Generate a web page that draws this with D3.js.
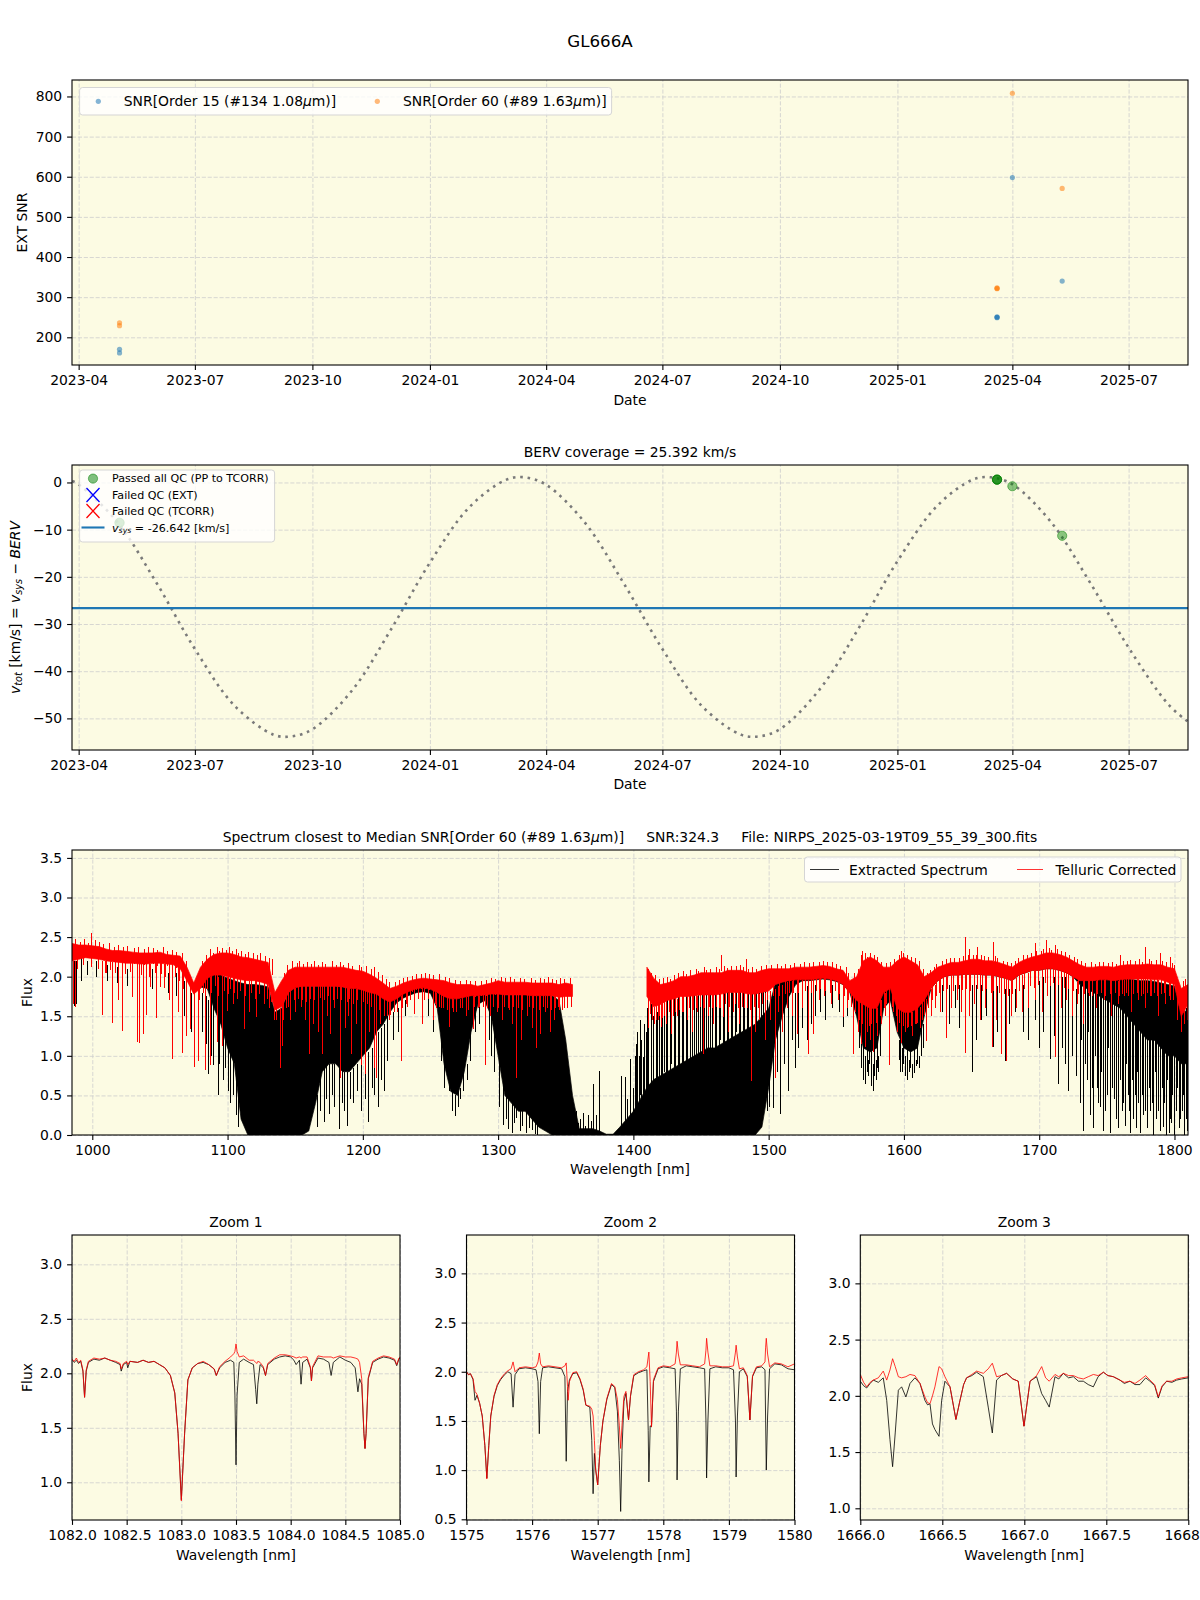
<!DOCTYPE html>
<html><head><meta charset="utf-8">
<script src="https://cdn.jsdelivr.net/npm/d3@7/dist/d3.min.js"></script>
<style>
html,body{margin:0;padding:0;background:#fff;}
text{font-family:"DejaVu Sans",sans-serif;fill:#000;}
</style></head><body>
<svg id="fig" width="1200" height="1600" xmlns="http://www.w3.org/2000/svg"></svg>
<script>
// ================= DATA =================
const obsDates = ["2023-05-03","2023-05-03","2025-03-20","2025-03-20","2025-03-20","2025-04-01","2025-05-10"];
const snrOrder15 = [170,161,250,249,251,598,340];
const snrOrder60 = [236,229,322,323,321,808,571];
const vtotPassed = [-8.5,-8.6,0.6,0.6,0.6,-0.8,-11.3];
const vsys = -26.642;
const dateTicks = ["2023-04","2023-07","2023-10","2024-01","2024-04","2024-07","2024-10","2025-01","2025-04","2025-07"];
const snrTicks = [200,300,400,500,600,700,800];
const vtotTicks = [0,-10,-20,-30,-40,-50];
const bervDates = ["2023-03-27","2023-04-01","2023-05-01","2023-06-01","2023-07-01","2023-08-01","2023-09-01","2023-09-15","2023-10-01","2023-11-01","2023-12-01","2024-01-01","2024-02-01","2024-03-01","2024-03-15","2024-04-01","2024-05-01","2024-06-01","2024-07-01","2024-08-01","2024-09-01","2024-09-15","2024-10-01","2024-11-01","2024-12-01","2025-01-01","2025-02-01","2025-03-01","2025-03-15","2025-04-01","2025-05-01","2025-06-01","2025-07-01","2025-08-01","2025-08-16"];
const bervValues = [0.3,-0.4,-8.3,-21.3,-35.3,-47.3,-53.5,-53.8,-52.3,-44.1,-31.4,-17.0,-5.2,0.6,1.1,-0.5,-8.4,-21.5,-35.3,-47.4,-53.5,-53.8,-52.3,-43.9,-31.2,-16.7,-5.0,0.6,1.1,-0.4,-8.3,-21.3,-35.0,-47.0,-50.6];

// Panel 3: 5 nm grid envelopes
const specWave = [985,990,995,1000,1005,1010,1015,1020,1025,1030,
1035,1040,1045,1050,1055,1060,1065,1070,1075,1080,
1085,1090,1095,1100,1105,1110,1115,1120,1125,1130,
1135,1140,1145,1150,1155,1160,1165,1170,1175,1180,
1185,1190,1195,1200,1205,1210,1215,1220,1225,1230,
1235,1240,1245,1250,1255,1260,1265,1270,1275,1280,
1285,1290,1295,1300,1305,1310,1315,1320,1325,1330,
1335,1340,1345,1350,1355,1360,1365,1370,1375,1380,
1385,1390,1395,1400,1405,1410,1415,1420,1425,1430,
1435,1440,1445,1450,1455,1460,1465,1470,1475,1480,
1485,1490,1495,1500,1505,1510,1515,1520,1525,1530,
1535,1540,1545,1550,1555,1560,1565,1570,1575,1580,
1585,1590,1595,1600,1605,1610,1615,1620,1625,1630,
1635,1640,1645,1650,1655,1660,1665,1670,1675,1680,
1685,1690,1695,1700,1705,1710,1715,1720,1725,1730,
1735,1740,1745,1750,1755,1760,1765,1770,1775,1780,
1785,1790,1795,1800,1805,1810];
const telHi = [2.42,2.40,2.40,2.39,2.38,2.35,2.33,2.33,2.32,2.31,
2.30,2.30,2.30,2.31,2.28,2.27,2.26,2.12,1.92,2.12,
2.22,2.28,2.30,2.30,2.28,2.25,2.24,2.22,2.20,2.18,
1.80,1.95,2.08,2.12,2.12,2.12,2.12,2.12,2.12,2.12,
2.12,2.10,2.08,2.07,2.03,1.98,1.92,1.85,1.88,1.92,
1.95,1.97,1.98,1.97,1.96,1.95,1.92,1.90,1.90,1.90,
1.88,1.90,1.92,1.95,1.93,1.93,1.93,1.93,1.92,1.92,
1.92,1.92,1.90,1.92,1.90,null,null,null,null,null,
null,null,null,null,null,2.12,1.98,1.90,1.92,1.95,
2.00,2.00,2.02,2.05,2.05,2.05,2.05,2.08,2.08,2.08,
2.05,2.05,2.08,2.10,2.10,2.10,2.10,2.12,2.12,2.12,
2.13,2.14,2.13,2.10,2.08,1.95,2.00,2.20,2.25,2.20,
2.12,2.12,2.20,2.25,2.20,2.15,2.00,2.05,2.12,2.15,
2.18,2.18,2.20,2.22,2.22,2.20,2.20,2.18,2.15,2.12,
2.18,2.22,2.25,2.27,2.30,2.30,2.28,2.25,2.20,2.15,
2.12,2.12,2.13,2.13,2.12,2.14,2.15,2.15,2.15,2.16,
2.15,2.15,2.12,2.10,1.85,1.90];
const telLo = [2.20,2.22,2.24,2.23,2.22,2.20,2.19,2.18,2.17,2.17,
2.16,2.16,2.17,2.17,2.16,2.15,2.10,1.95,1.78,1.85,
1.98,2.02,2.02,2.00,1.98,1.96,1.95,1.95,1.93,1.90,
1.58,1.62,1.80,1.86,1.88,1.88,1.88,1.88,1.88,1.88,
1.87,1.85,1.85,1.83,1.80,1.78,1.72,1.68,1.72,1.78,
1.82,1.85,1.86,1.84,1.80,1.75,1.72,1.72,1.74,1.76,
1.76,1.77,1.78,1.78,1.77,1.77,1.77,1.77,1.76,1.76,
1.76,1.76,1.74,1.75,1.75,null,null,null,null,null,
null,null,null,null,null,1.75,1.62,1.65,1.70,1.72,
1.75,1.75,1.76,1.77,1.77,1.77,1.78,1.80,1.80,1.80,
1.78,1.78,1.80,1.82,1.90,1.93,1.95,1.96,1.96,1.96,
1.97,1.98,1.97,1.95,1.90,1.80,1.70,1.65,1.60,1.60,
1.80,1.85,1.60,1.55,1.55,1.60,1.70,1.85,1.95,2.00,
2.02,2.02,2.03,2.03,2.03,2.02,2.02,2.00,1.98,1.95,
2.02,2.05,2.08,2.08,2.10,2.10,2.08,2.05,2.00,1.95,
1.95,1.95,1.96,1.96,1.95,1.96,1.97,1.97,1.97,1.97,
1.96,1.96,1.93,1.90,1.50,1.65];
const extHi = [2.36,2.35,2.35,2.34,2.33,2.30,2.28,2.28,2.27,2.26,
2.25,2.25,2.25,2.26,2.23,2.22,2.20,2.05,1.86,1.98,
2.05,2.05,2.02,1.98,1.95,1.92,1.90,1.90,1.89,1.87,
1.55,1.60,1.80,1.87,1.88,1.88,1.88,1.88,1.88,1.88,
1.87,1.86,1.86,1.85,1.82,1.80,1.74,1.70,1.75,1.80,
1.84,1.86,1.87,1.86,1.80,1.76,1.73,1.73,1.75,1.77,
1.78,1.79,1.80,1.80,1.79,1.79,1.79,1.79,1.78,1.78,
1.78,1.76,1.70,1.20,0.50,0.08,0.08,0.08,0.05,0.01,
0.01,0.10,0.20,0.30,0.45,0.60,0.70,0.75,0.80,0.85,
0.90,0.95,1.00,1.05,1.10,1.10,1.15,1.20,1.25,1.30,
1.35,1.40,1.50,1.60,1.92,1.95,1.96,1.97,1.97,1.97,
1.98,1.99,1.98,1.96,1.92,1.85,1.78,1.75,1.72,1.72,
1.85,1.88,1.72,1.68,1.68,1.72,1.78,1.88,1.98,2.03,
2.05,2.05,2.06,2.06,2.06,2.05,2.05,2.03,2.01,1.98,
2.05,2.08,2.11,2.11,2.13,2.13,2.11,2.08,2.03,1.98,
1.98,1.98,1.98,1.98,1.97,1.97,1.97,1.96,1.95,1.95,
1.94,1.92,1.90,1.88,1.50,1.60];
const extLo = [2.22,2.24,2.26,2.25,2.24,2.22,2.21,2.20,2.19,2.19,
2.18,2.18,2.19,2.19,2.18,2.17,2.12,1.97,1.80,1.87,
1.85,1.60,1.40,1.10,0.90,0.20,0.00,0.00,0.00,0.00,
0.00,0.00,0.00,0.00,0.00,0.05,0.40,0.80,0.90,0.90,
0.80,0.80,0.90,1.00,1.10,1.30,1.40,1.55,1.67,1.73,
1.77,1.80,1.81,1.79,1.60,0.90,0.55,0.50,0.80,1.30,
1.65,1.70,1.50,1.00,0.50,0.40,0.30,0.30,0.20,0.10,
0.05,0.00,0.00,0.00,0.00,0.00,0.00,0.00,0.00,0.00,
0.00,0.00,0.00,0.00,0.00,0.00,0.00,0.00,0.00,0.00,
0.00,0.00,0.00,0.00,0.00,0.00,0.00,0.00,0.00,0.00,
0.00,0.00,0.10,0.60,1.20,1.50,1.75,1.90,1.95,1.95,
1.96,1.97,1.96,1.94,1.90,1.80,1.50,1.10,1.05,1.10,
1.60,1.70,1.30,1.10,1.05,1.10,1.50,1.85,1.95,2.00,
2.02,2.02,2.03,2.03,2.03,2.02,2.02,2.00,1.98,1.95,
2.02,2.05,2.08,2.08,2.10,2.10,2.08,2.05,2.00,1.90,
1.85,1.80,1.75,1.70,1.65,1.60,1.50,1.40,1.30,1.20,
1.20,1.10,1.00,1.00,0.90,0.90];
const extLines = [
[986.5,2.2,1.63],[988,2.2,1.66],[991.5,2.25,1.95],[996,2.2,2.02],[1003,2.2,2.0],[1011,2.15,1.95],[1018,2.12,1.92],[1026,2.1,1.88],[1044,2.1,1.85],[1056,2.05,1.8],[1062,2.05,1.75],[1068,1.95,1.5],[1073,1.8,1.3],
[1081,1.8,1.3],[1084,1.75,1.15],[1085.9,1.7,0.77],[1088,1.7,1.0],[1089.5,1.65,0.89],[1092.6,1.5,0.51],[1094,1.5,0.9],[1096.5,1.4,0.7],[1098,1.3,0.85],[1100,1.2,0.55],[1102,1.1,0.4],[1104,1.0,0.5],[1106.5,0.9,0.25],[1108,0.8,0.1],
[1166,0.5,0.1],[1168,0.8,0.3],[1171,0.85,0.17],[1173,0.9,0.45],[1174.8,0.9,0.26],[1177,0.9,0.5],[1179,0.9,0.35],[1182.2,0.9,0.07],[1184.5,0.85,0.4],[1186,0.8,0.3],[1188.4,0.8,0.11],[1190.5,0.8,0.45],[1193,0.85,0.4],[1195.5,0.9,0.55],[1199,0.95,0.3],[1201.5,1.0,0.45],[1204,1.05,0.17],[1206.5,1.1,0.6],[1208.5,1.2,0.5],[1211,1.3,0.36],[1213.5,1.35,0.7],[1215.6,1.4,0.55],[1218,1.5,0.93],[1222,1.55,1.2],[1226,1.6,1.3],[1231,1.7,1.5],[1238,1.75,1.55],[1248,1.75,1.5],[1252,1.7,1.3],
[1257.5,1.5,0.93],[1260,1.0,0.6],[1263.7,0.8,0.55],[1266,0.6,0.3],[1268.5,0.5,0.24],[1270.5,0.55,0.35],[1272,0.6,0.45],[1274,0.8,0.55],[1277,0.9,0.7],[1279,1.3,0.94],[1283,1.7,1.3],[1286,1.7,1.4],[1290.1,1.7,0.89],[1293,1.6,1.2],[1295,1.5,1.0],[1297,1.4,0.8],
[1301,1.0,0.35],[1303.7,0.7,0.13],[1305.5,0.5,0.2],[1307.5,0.5,0.08],[1309.9,0.4,0.03],[1312,0.4,0.15],[1313.5,0.35,0.22],[1316,0.3,0.05],[1318,0.3,0.12],[1320.5,0.3,0.02],[1323,0.3,0.09],[1325,0.2,0.06],[1327.4,0.2,0.01],[1329,0.15,0.0],
[1355.4,0,0.22],[1357.5,0,0.3],[1359,0,0.15],[1360.5,0,0.2],[1362.8,0,0.28],[1364.5,0,0.12],[1366.5,0,0.25],[1368.5,0,0.18],[1370.2,0,0.64],[1372,0,0.25],[1374.6,0,0.81],[1391.1,0,0.75],[1393.6,0,0.73],[1395.5,0,0.45],[1397.8,0,0.96],[1399.5,0,0.6],[1402.2,0,1.15],[1404.5,0.2,0.9],[1407.1,0.3,0.98],[1409.5,0.4,1.3],
[1401,1.0,0.2],[1403,1.3,0.3],[1404,1.0,0.1],[1405,1.45,0.5],[1406,1.2,0.2],[1408,1.4,0.3],[1409,1.1,0.0],[1410,1.6,0.6],[1411,1.4,0.2],[1413,1.65,0.4],[1414.5,1.5,0.0],[1416.5,1.7,0.7],[1417.5,1.55,0.1],[1419,1.7,0.3],[1420.5,1.6,0.5],[1421.5,1.75,0.0],[1422.5,1.65,0.8],[1424,1.75,0.2],[1425,1.7,0.5],[1427,1.78,0.1],[1428,1.7,0.9],[1430,1.8,0.3],[1431,1.72,0.0],[1433,1.8,0.6],[1434,1.75,0.2],[1436,1.82,0.9],[1437,1.78,0.1],[1439,1.83,0.5],[1440,1.8,0.0],[1442,1.85,0.7],[1443,1.8,0.3],[1445,1.85,1.0],[1446,1.82,0.1],[1448,1.86,0.6],[1449,1.8,0.2],[1451,1.87,0.8],[1452,1.82,0.0],[1454,1.88,0.4],[1455,1.84,1.1],[1457,1.88,0.2],[1458,1.85,0.7],[1460,1.88,0.0],[1461,1.85,0.9],[1463,1.9,0.3],[1464,1.86,1.2],[1466,1.9,0.5],[1467,1.87,0.1],[1469,1.9,0.8],[1470,1.87,0.3],[1472,1.9,1.1],[1473,1.88,0.0],[1475,1.9,0.6],[1476,1.88,1.3],[1478,1.9,0.2],[1479,1.88,0.9],[1481,1.9,0.4],[1482,1.88,1.2],[1484,1.9,0.1],[1485,1.88,0.8],[1487,1.9,0.3],[1488,1.88,1.0],[1490,1.9,0.0],[1491,1.88,0.6],[1492.5,1.9,0.2],[1494,1.9,0.9],[1496,1.9,0.4],[1497.5,1.9,1.1],[1499,1.92,0.3],
[1500.5,1.6,0.35],[1503.5,1.5,0.34],[1506,1.6,0.8],[1508.4,1.6,0.26],[1511,1.7,0.9],[1514.5,1.75,0.55],[1517,1.8,1.2],[1519.4,1.8,0.85],[1522,1.85,1.1],[1525,1.85,1.35],[1528,1.88,1.2],[1531,1.9,1.4],[1534,1.9,1.5],[1538,1.9,1.55],[1542,1.9,1.45],[1547,1.9,1.6],[1552,1.9,1.55],[1554.8,1.85,1.36],[1558,1.8,1.5],
[1567,1.5,1.1],[1568,1.6,0.85],[1569.5,1.2,0.8],[1570,1.5,0.7],[1571.5,1.0,0.65],[1572.5,1.4,0.8],[1573.5,0.95,0.75],[1574.5,1.3,0.9],[1575.3,0.9,0.63],[1576,1.3,0.62],[1577,0.9,0.55],[1578,1.3,0.75],[1579,0.95,0.7],[1580,1.4,0.85],[1581,1.0,0.8],[1582,1.5,1.0],[1596,1.2,0.95],[1597,1.5,0.8],[1598.5,1.1,0.8],[1599.5,1.4,0.9],[1601,1.0,0.75],[1602,1.3,0.7],[1603.5,0.95,0.8],[1604.5,1.3,0.85],[1606,0.9,0.72],[1607.5,1.3,0.78],[1609,0.95,0.87],[1610,1.3,0.9],[1611.5,1.0,0.85],[1612.5,1.4,1.0],[1614,1.4,1.1],
[1628,1.9,1.55],[1633,1.9,1.4],[1638,1.9,1.6],[1641,1.9,1.35],[1645,1.9,1.04],[1650.4,1.9,0.79],[1653.5,1.9,1.2],[1657,1.9,1.45],[1661,1.9,1.5],[1665.9,1.9,1.11],[1669,1.88,1.3],[1674.6,1.85,0.94],[1678,1.85,1.4],[1682,1.85,1.55],[1688,1.9,1.3],[1692,1.95,1.2],[1697,1.95,1.45],[1700,1.95,1.1],[1703,2.0,1.3],[1707.9,2.0,0.96],[1711,2.0,1.25],[1714.1,2.0,0.64],[1717,2.0,1.1],[1719,2.0,0.9],[1721.5,1.95,0.55],[1724,1.9,1.0],[1727,1.85,0.75],
[1730,1.9,0.4],[1731,1.9,1.2],[1732.6,1.9,0.05],[1733.8,1.9,0.9],[1735,1.9,0.7],[1736,1.9,1.3],[1737.5,1.88,0.25],[1738.8,1.88,0.6],[1740,1.88,0.09],[1741,1.88,1.0],[1742.5,1.85,0.6],[1743.8,1.85,0.4],[1745,1.85,0.35],[1746,1.85,0.8],[1747.4,1.85,0.05],[1748.8,1.85,0.3],[1750,1.85,0.5],[1751,1.85,1.1],[1752.3,1.85,0.03],[1753.5,1.85,0.6],[1755,1.85,0.45],[1756.5,1.85,0.2],[1758.5,1.85,0.09],[1760,1.85,0.7],[1761,1.85,0.3],[1762.2,1.85,0.4],[1763.5,1.85,0.12],[1764.5,1.85,0.9],[1765.5,1.85,0.5],[1766.3,1.85,0.3],[1767.2,1.85,0.03],[1768.4,1.85,0.7],[1769.5,1.85,0.2],[1770.5,1.85,0.5],[1771.5,1.85,0.09],[1772.2,1.85,0.8],[1773,1.85,0.4],[1774.6,1.85,0.03],[1776,1.85,0.5],[1777,1.85,0.25],[1778.2,1.85,0.3],[1779.5,1.85,0.09],[1780.8,1.85,0.6],[1782,1.85,0.3],[1783.2,1.85,0.4],[1784.4,1.85,0.0],[1785.5,1.85,0.8],[1786.5,1.85,0.2],[1788,1.85,0.3],[1789.4,1.85,0.05],[1790.5,1.85,0.6],[1791.5,1.85,0.1],[1792.5,1.85,0.4],[1793.5,1.85,0.0],[1794.5,1.85,0.7],[1795.6,1.85,0.03],[1796.5,1.85,0.2],[1797.5,1.85,0.15],[1798.5,1.85,0.5],[1799.5,1.85,0.0],[1801,1.85,0.3],[1802,1.7,0.6],[1803,1.7,0.09],[1804,1.6,0.2],[1805.5,1.6,0.3],[1806.3,1.6,0.5],[1807,1.6,0.0],[1808.3,1.6,0.2],[1809.5,1.6,0.05]
];
const telLines = [
[985.4,2.2,1.66],[986.9,2.2,1.62],[998.8,2.3,2.55],[1006.9,2.2,1.52],[1009.1,2.2,2.05],[1014.8,2.18,1.41],[1019.3,2.18,1.70],[1021.7,2.18,1.32],[1029.1,2.17,1.74],[1032.8,2.17,1.17],[1034.6,2.16,1.16],[1037.3,2.16,1.28],[1039.8,2.16,1.52],[1043,2.16,1.87],[1047.2,2.17,1.48],[1050.1,2.17,1.87],[1053.3,2.16,1.86],[1056.5,2.16,1.70],[1058.8,2.15,0.96],[1063,2.12,1.55],[1066.2,2.10,1.03],[1069.1,2.0,1.25],[1071.9,1.9,1.34],[1075.3,1.8,0.86],[1078.5,1.82,0.94],[1083,2.0,0.82],[1086.7,2.0,0.89],[1092.1,2.02,1.17],[1095.8,2.02,1.13],[1099.5,2.0,1.57],[1104,1.98,1.65],[1111.9,1.96,1.34],[1116,1.95,1.55],[1121.2,1.95,1.49],[1126.6,1.93,1.66],[1131,1.9,1.6],
[1136,1.7,1.45],[1139,1.6,0.85],[1140.5,1.65,1.13],[1146.5,1.82,1.45],[1150,1.86,1.55],[1154,1.88,1.62],[1157,1.88,1.45],[1160,1.88,1.02],[1163,1.88,1.4],[1166.5,1.88,1.3],[1169.9,1.88,1.02],[1173.5,1.88,1.5],[1176,1.88,1.28],[1179,1.88,1.6],[1183,1.87,0.72],[1186.5,1.87,1.35],[1189,1.86,1.5],[1191.6,1.85,1.02],[1195,1.85,1.4],[1198.3,1.84,0.89],[1201.5,1.83,0.77],[1204.5,1.81,1.3],[1208.1,1.79,0.85],[1209.9,1.78,0.72],[1213,1.75,1.4],[1215.5,1.72,1.5],[1219,1.7,1.45],[1223,1.7,1.55],[1227.9,1.75,0.94],[1233,1.8,1.62],[1237.6,1.84,1.53],[1244,1.86,1.40],[1251.5,1.84,1.45],[1254,1.8,1.6],
[1258,1.78,1.6],[1263.8,1.75,1.36],[1267,1.72,1.55],[1272,1.72,1.6],[1276,1.74,1.5],[1281.5,1.76,1.34],[1286,1.76,1.62],[1290.1,1.77,0.89],[1294,1.78,1.5],[1299,1.78,1.55],[1303,1.78,1.45],[1307,1.77,1.6],[1310.5,1.77,1.4],[1313.5,1.77,0.72],[1317,1.77,1.2],[1321,1.77,1.5],[1325,1.76,1.35],[1328.3,1.76,1.1],[1331,1.76,1.28],[1335,1.76,1.55],[1338,1.76,1.3],[1341,1.76,1.45],[1345,1.74,1.58],[1349,1.75,1.6],
[1410.5,1.75,1.35],[1412,1.7,1.53],[1415,1.62,1.4],[1418,1.65,1.45],[1420.7,1.65,1.36],[1424,1.7,1.4],[1428,1.72,1.28],[1432,1.72,1.5],[1436,1.75,1.55],[1440,1.75,1.45],[1443,1.75,1.3],[1447,1.76,1.55],[1451.5,1.77,1.02],[1455,1.77,1.5],[1459,1.77,1.4],[1463,1.77,1.6],[1466,1.78,1.49],[1470,1.8,1.3],[1474,1.8,1.55],[1478,1.8,1.4],[1482,1.8,1.6],[1487.2,1.78,0.68],[1490,1.78,1.3],[1493,1.78,1.45],[1497,1.8,1.2],
[1501,1.82,1.45],[1504.4,1.85,0.72],[1507,1.88,1.55],[1510,1.9,1.3],[1513.5,1.93,1.6],[1517,1.95,1.5],[1521,1.96,1.28],[1524.5,1.96,1.6],[1529,1.96,1.02],[1533.1,1.97,1.28],[1537,1.97,1.7],[1541,1.98,1.75],[1546,1.97,1.65],[1551,1.95,1.7],[1554.8,1.9,1.49],[1558,1.85,1.6],[1562.2,1.8,1.02],
[1566,1.7,1.3],[1568,1.68,1.15],[1570.9,1.65,1.11],[1572.5,1.65,1.3],[1575,1.6,1.2],[1577.5,1.6,1.05],[1580,1.6,1.25],[1583,1.7,1.4],[1586,1.8,1.5],[1588.9,1.85,0.89],[1592,1.85,1.55],[1595,1.65,1.3],[1597.5,1.6,1.16],[1600.5,1.55,1.3],[1603,1.55,1.36],[1606,1.55,1.25],[1609,1.6,1.4],[1612,1.62,1.35],[1616.5,1.72,1.19],[1620,1.85,1.5],[1623,1.9,1.6],
[1627,1.98,1.55],[1631.4,2.0,1.23],[1635,2.02,1.6],[1639,2.02,1.7],[1642,2.02,1.55],[1645,2.03,1.04],[1648,2.03,1.5],[1652,2.03,1.65],[1656,2.03,1.45],[1660,2.02,1.6],[1665.4,2.02,1.11],[1668,2.0,1.45],[1672.1,2.0,1.02],[1675.3,1.98,0.94],[1679,1.96,1.5],[1683,1.98,1.6],[1687,2.02,1.55],[1692,2.05,1.6],[1697,2.08,1.7],[1702,2.08,1.55],[1706,2.1,1.75],[1711.6,2.1,0.98],[1716,2.08,1.6],[1720,2.05,1.7],[1724,2.0,1.5],[1728,1.95,1.65],[1732.6,1.95,1.40],[1737,1.95,1.75],[1742,1.95,1.6],[1748,1.96,1.7],[1753,1.96,1.5],[1758,1.95,1.65],[1763,1.96,1.75],[1768,1.97,1.55],[1773,1.97,1.7],[1778,1.97,1.6],[1783,1.96,1.75],[1788,1.96,1.5],[1793,1.95,1.65],[1797,1.93,1.7],[1801.7,1.9,1.45],[1804.5,1.6,1.3],[1807,1.6,1.4],
[1645.2,2.2,2.5],[1665.6,2.2,2.44],[1705,2.28,2.46],[1778.3,2.15,2.38]
];
const telPeaks = [[987,2.47],[991,2.44],[994,2.48],[997,2.43],[1002,2.46],[1005,2.44],[1008,2.41],[1012,2.42],[1016,2.38],[1019,2.40],[1023,2.37],[1026,2.39],[1031,2.36],[1034,2.38],[1038,2.35],[1041,2.37],[1045,2.36],[1048,2.34],[1052,2.37],[1055,2.33],[1059,2.34],[1062,2.31],[1066,2.30],[1069,2.2],
[1078,2.0],[1081,2.2],[1084,2.28],[1087,2.35],[1089,2.3],[1092,2.38],[1094,2.33],[1096,2.36],[1099,2.34],[1101,2.38],[1103,2.32],[1106,2.35],[1108,2.3],[1110,2.33],[1113,2.29],[1115,2.31],[1119,2.3],[1122,2.27],[1124,2.3],[1128,2.26],[1131,2.24],[1133,2.22],
[1142,2.05],[1144,2.15],[1148,2.2],[1151,2.17],[1153,2.2],[1156,2.16],[1159,2.19],[1162,2.16],[1164,2.2],[1167,2.15],[1170,2.18],[1172,2.16],[1177,2.2],[1180,2.15],[1183,2.18],[1185,2.15],[1189,2.17],[1192,2.13],[1197,2.15],[1199,2.12],[1202,2.14],[1206,2.1],[1208,2.12],[1211,2.06],[1214,2.02],[1217,1.97],[1219,1.93],
[1224,1.93],[1227,1.96],[1230,1.98],[1233,2.0],[1236,2.01],[1239,2.03],[1243,2.04],[1246,2.05],[1249,2.03],[1252,2.02],[1256,2.03],[1261,2.0],[1264,1.98],[1268,1.96],[1272,1.95],[1276,1.96],[1279,1.95],[1283,1.94],[1287,1.95],[1291,1.96],[1295,1.98],[1298,1.97],[1302,2.0],[1305,1.98],[1309,1.99],[1312,1.97],[1316,1.98],[1319,1.97],[1324,1.98],[1327,1.96],[1331,1.98],[1334,1.97],[1337,1.99],[1340,1.97],[1343,1.96],[1346,1.98],[1349,1.97],[1353,1.98],
[1411,2.1],[1413,2.05],[1416,2.02],[1419,1.97],[1422,1.98],[1425,2.0],[1427,1.97],[1430,2.02],[1433,2.05],[1437,2.07],[1439,2.04],[1442,2.08],[1446,2.1],[1448,2.07],[1452,2.12],[1454,2.09],[1457,2.1],[1461,2.12],[1463,2.1],[1465,2.27],[1467,2.13],[1469,2.11],[1472,2.14],[1476,2.13],[1479,2.15],[1481,2.12],[1483,2.22],[1485,2.1],[1488,2.12],[1491,2.1],[1494,2.13],[1498,2.15],
[1502,2.15],[1506,2.16],[1509,2.14],[1512,2.16],[1516,2.15],[1519,2.17],[1523,2.16],[1526,2.18],[1530,2.17],[1533,2.18],[1537,2.19],[1540,2.2],[1543,2.19],[1547,2.18],[1550,2.16],[1553,2.14],[1557,2.12],[1559,2.05],
[1563,2.05],[1566,2.1],[1568,2.27],[1569,2.33],[1571,2.3],[1573,2.25],[1575,2.3],[1578,2.27],[1580,2.25],[1583,2.18],[1587,2.17],[1590,2.18],[1593,2.22],[1596,2.28],[1598,2.33],[1599,2.3],[1602,2.28],[1605,2.25],[1608,2.24],[1611,2.2],[1614,2.1],[1617,2.05],[1619,2.08],[1622,2.12],[1624,2.16],
[1628,2.2],[1631,2.22],[1634,2.24],[1637,2.23],[1641,2.24],[1644,2.26],[1647,2.27],[1648,2.35],[1651,2.28],[1653,2.27],[1654,2.38],[1657,2.27],[1659,2.26],[1662,2.25],[1667,2.26],[1669,2.23],[1673,2.2],[1676,2.19],[1679,2.17],[1682,2.2],[1684,2.23],[1688,2.27],[1691,2.28],[1694,2.3],[1697,2.42],[1698,2.32],[1701,2.33],[1703,2.35],[1707,2.36],[1709,2.34],[1712,2.4],[1713,2.35],[1716,2.33],[1719,2.31],[1722,2.28],[1726,2.25],[1728,2.22],
[1731,2.2],[1734,2.17],[1738,2.18],[1741,2.16],[1744,2.19],[1747,2.18],[1751,2.17],[1754,2.18],[1757,2.16],[1760,2.28],[1762,2.2],[1765,2.2],[1767,2.21],[1771,2.2],[1774,2.22],[1776,2.19],[1781,2.22],[1783,2.2],[1786,2.21],[1789,2.3],[1791,2.2],[1794,2.18],[1797,2.25],[1798,2.17],[1800,2.15],[1803,1.9],[1806,1.95],[1808,1.97]];
const telDips = [[989,2.1],[993,2.15],[999,2.12],[1004,2.1],[1010,2.05],[1013,2.08],[1017,2.05],[1024,2.03],[1028,2.06],[1036,2.02],[1042,2.0],[1046,2.05],[1051,2.03],[1054,2.0],[1057,1.98],[1061,2.0],[1064,1.95],[1067,1.85],
[1079,1.7],[1082,1.8],[1085,1.85],[1088,1.8],[1091,1.88],[1093,1.75],[1097,1.82],[1100,1.78],[1102,1.85],[1105,1.8],[1107,1.72],[1109,1.82],[1113,1.75],[1117,1.8],[1120,1.72],[1123,1.78],[1127,1.75],[1129,1.72],[1132,1.68],[1134,1.45],
[1141,1.45],[1143,1.6],[1145,1.62],[1149,1.7],[1152,1.72],[1155,1.7],[1158,1.68],[1161,1.72],[1164,1.7],[1168,1.73],[1171,1.7],[1174,1.75],[1178,1.7],[1181,1.72],[1184,1.7],[1188,1.68],[1190,1.72],[1193,1.66],[1196,1.7],[1200,1.68],[1203,1.66],[1206,1.62],[1210,1.6],[1212,1.58],[1216,1.55],[1218,1.5],[1220,1.52],
[1225,1.55],[1229,1.6],[1232,1.65],[1235,1.7],[1241,1.72],[1245,1.7],[1248,1.72],[1253,1.65],[1256,1.62],[1259,1.6],[1262,1.58],[1266,1.6],[1269,1.55],[1273,1.6],[1278,1.58],[1282,1.62],[1285,1.6],[1289,1.62],[1292,1.6],[1296,1.62],[1300,1.6],[1304,1.62],[1308,1.58],[1311,1.62],[1315,1.6],[1318,1.58],[1323,1.62],[1326,1.6],[1330,1.58],[1333,1.62],[1336,1.6],[1339,1.58],[1342,1.6],[1344,1.62],[1347,1.58],[1351,1.6],[1354,1.62],
[1412,1.55],[1414,1.45],[1417,1.45],[1419,1.5],[1421,1.48],[1423,1.5],[1426,1.55],[1429,1.5],[1431,1.55],[1434,1.58],[1437,1.55],[1441,1.6],[1444,1.58],[1446,1.6],[1449,1.62],[1452,1.6],[1456,1.62],[1458,1.6],[1461,1.62],[1464,1.6],[1468,1.65],[1471,1.62],[1475,1.65],[1477,1.6],[1480,1.62],[1484,1.6],[1486,1.58],[1489,1.62],[1492,1.6],[1495,1.65],[1499,1.7],
[1503,1.75],[1508,1.75],[1512,1.78],[1515,1.8],[1518,1.8],[1522,1.8],[1527,1.82],[1531,1.8],[1535,1.82],[1538,1.85],[1542,1.82],[1545,1.8],[1549,1.82],[1552,1.78],[1556,1.75],[1559,1.7],
[1561,1.62],[1564,1.55],[1567,1.45],[1569,1.4],[1574,1.38],[1576,1.4],[1579,1.42],[1582,1.5],[1585,1.6],[1587,1.65],[1591,1.62],[1594,1.5],[1596,1.42],[1599,1.38],[1602,1.35],[1605,1.38],[1608,1.4],[1610,1.42],[1613,1.45],[1615,1.52],[1618,1.6],[1621,1.7],[1624,1.75],
[1626,1.8],[1629,1.82],[1632,1.85],[1636,1.82],[1640,1.85],[1643,1.83],[1646,1.85],[1649,1.82],[1654,1.85],[1658,1.82],[1661,1.84],[1664,1.8],[1666,1.82],[1670,1.8],[1674,1.78],[1677,1.75],[1680,1.78],[1685,1.82],[1689,1.85],[1693,1.88],[1696,1.86],[1699,1.9],[1704,1.92],[1708,1.88],[1710,1.92],[1714,1.9],[1718,1.86],[1721,1.85],[1725,1.82],[1729,1.78],
[1733,1.78],[1736,1.8],[1739,1.75],[1743,1.78],[1746,1.8],[1749,1.76],[1752,1.78],[1756,1.8],[1759,1.76],[1761,1.78],[1764,1.8],[1766,1.75],[1769,1.78],[1772,1.8],[1775,1.76],[1777,1.78],[1780,1.8],[1782,1.76],[1785,1.8],[1787,1.75],[1790,1.78],[1792,1.8],[1796,1.75],[1799,1.7],[1802,1.6],[1805,1.3],[1809,1.45]];
const specXTicks = [1000,1100,1200,1300,1400,1500,1600,1700,1800];
const fluxTicks = [0,0.5,1,1.5,2,2.5,3,3.5];

const zoom1Ext = [[1082.00,2.12],[1082.02,2.10],[1082.04,2.12],[1082.06,2.09],[1082.08,2.11],[1082.10,2.02],[1082.115,1.78],[1082.13,2.02],[1082.15,2.10],[1082.20,2.13],[1082.25,2.12],[1082.30,2.14],[1082.35,2.12],[1082.40,2.10],[1082.44,2.08],[1082.45,2.02],[1082.47,2.08],[1082.50,2.10],[1082.51,2.05],[1082.53,2.11],[1082.60,2.10],[1082.65,2.12],[1082.70,2.10],[1082.75,2.11],[1082.80,2.08],[1082.85,2.05],[1082.90,1.98],[1082.94,1.82],[1082.97,1.45],[1083.00,0.84],[1083.03,1.45],[1083.06,1.94],[1083.10,2.05],[1083.15,2.09],[1083.20,2.10],[1083.25,2.08],[1083.30,2.04],[1083.32,1.98],[1083.35,2.05],[1083.40,2.10],[1083.45,2.12],[1083.48,2.10],[1083.49,1.80],[1083.50,1.16],[1083.51,1.80],[1083.53,2.10],[1083.57,2.13],[1083.62,2.10],[1083.66,2.08],[1083.68,1.85],[1083.69,1.72],[1083.70,1.90],[1083.72,2.08],[1083.75,2.05],[1083.77,1.98],[1083.79,2.08],[1083.85,2.13],[1083.90,2.15],[1083.95,2.16],[1084.00,2.15],[1084.03,2.12],[1084.05,2.08],[1084.08,2.12],[1084.095,1.90],[1084.11,2.10],[1084.15,2.13],[1084.18,2.05],[1084.19,1.93],[1084.20,2.05],[1084.25,2.14],[1084.30,2.13],[1084.35,2.10],[1084.37,1.98],[1084.39,2.10],[1084.45,2.15],[1084.50,2.12],[1084.55,2.10],[1084.59,2.05],[1084.615,1.83],[1084.63,1.95],[1084.65,1.90],[1084.67,1.45],[1084.68,1.31],[1084.69,1.45],[1084.71,1.95],[1084.75,2.10],[1084.80,2.13],[1084.85,2.15],[1084.90,2.14],[1084.95,2.12],[1084.97,2.07],[1084.99,2.13],[1085.00,2.14]];
const zoom1Tel = [[1082.00,2.13],[1082.02,2.11],[1082.04,2.14],[1082.06,2.10],[1082.08,2.12],[1082.10,2.03],[1082.115,1.78],[1082.13,2.03],[1082.15,2.11],[1082.20,2.14],[1082.25,2.13],[1082.30,2.14],[1082.35,2.12],[1082.40,2.11],[1082.44,2.09],[1082.45,2.04],[1082.47,2.09],[1082.50,2.11],[1082.51,2.08],[1082.53,2.11],[1082.60,2.10],[1082.65,2.12],[1082.70,2.10],[1082.75,2.11],[1082.80,2.08],[1082.85,2.05],[1082.90,1.98],[1082.94,1.82],[1082.97,1.45],[1083.00,0.83],[1083.03,1.45],[1083.06,1.94],[1083.10,2.05],[1083.15,2.09],[1083.20,2.11],[1083.25,2.08],[1083.30,2.04],[1083.32,1.98],[1083.35,2.06],[1083.40,2.11],[1083.45,2.15],[1083.48,2.18],[1083.49,2.20],[1083.50,2.27],[1083.51,2.20],[1083.53,2.15],[1083.57,2.16],[1083.62,2.12],[1083.66,2.12],[1083.68,2.10],[1083.69,2.09],[1083.70,2.11],[1083.72,2.10],[1083.75,2.06],[1083.77,1.98],[1083.79,2.09],[1083.85,2.14],[1083.90,2.17],[1083.95,2.17],[1084.00,2.16],[1084.03,2.15],[1084.05,2.14],[1084.08,2.15],[1084.095,2.14],[1084.11,2.15],[1084.15,2.15],[1084.18,2.06],[1084.19,1.93],[1084.20,2.06],[1084.25,2.16],[1084.30,2.15],[1084.35,2.15],[1084.37,2.15],[1084.39,2.14],[1084.45,2.16],[1084.50,2.15],[1084.55,2.15],[1084.59,2.14],[1084.615,2.13],[1084.63,2.10],[1084.65,1.95],[1084.67,1.45],[1084.68,1.31],[1084.69,1.45],[1084.71,1.96],[1084.75,2.11],[1084.80,2.14],[1084.85,2.16],[1084.90,2.15],[1084.95,2.13],[1084.97,2.08],[1084.99,2.14],[1085.00,2.15]];
const zoom2Ext = [[1575.00,2.00],[1575.03,1.97],[1575.06,1.98],[1575.10,1.92],[1575.13,1.71],[1575.16,1.76],[1575.20,1.68],[1575.24,1.55],[1575.28,1.25],[1575.31,0.92],[1575.34,1.25],[1575.37,1.55],[1575.42,1.75],[1575.47,1.86],[1575.52,1.92],[1575.58,1.97],[1575.63,2.00],[1575.68,1.98],[1575.71,1.64],[1575.74,1.97],[1575.80,2.03],[1575.90,2.04],[1576.00,2.03],[1576.06,2.02],[1576.09,1.90],[1576.11,1.37],[1576.13,1.90],[1576.16,2.04],[1576.25,2.05],[1576.35,2.04],[1576.45,2.03],[1576.50,1.95],[1576.52,1.09],[1576.54,1.80],[1576.57,1.92],[1576.62,1.98],[1576.68,1.99],[1576.73,1.92],[1576.78,1.81],[1576.82,1.66],[1576.88,1.64],[1576.91,1.30],[1576.93,0.76],[1576.95,1.17],[1576.97,1.00],[1577.00,0.85],[1577.04,1.25],[1577.08,1.50],[1577.14,1.72],[1577.21,1.87],[1577.26,1.84],[1577.30,1.60],[1577.33,1.10],[1577.35,0.58],[1577.37,1.20],[1577.40,1.70],[1577.43,1.78],[1577.47,1.51],[1577.50,1.75],[1577.55,1.96],[1577.62,1.99],[1577.70,2.01],[1577.75,2.02],[1577.77,1.40],[1577.78,0.88],[1577.80,1.45],[1577.82,1.44],[1577.85,1.90],[1577.92,2.03],[1578.00,2.05],[1578.10,2.04],[1578.18,2.03],[1578.20,1.60],[1578.21,0.90],[1578.23,1.60],[1578.26,2.03],[1578.35,2.06],[1578.45,2.05],[1578.55,2.04],[1578.63,2.03],[1578.65,1.50],[1578.66,0.92],[1578.68,1.50],[1578.71,2.03],[1578.80,2.05],[1578.90,2.04],[1579.00,2.04],[1579.07,2.02],[1579.10,1.50],[1579.11,0.93],[1579.13,1.55],[1579.16,2.00],[1579.22,2.03],[1579.28,1.95],[1579.32,1.51],[1579.36,1.95],[1579.42,2.04],[1579.50,2.05],[1579.55,2.02],[1579.56,1.50],[1579.57,1.00],[1579.59,1.55],[1579.62,2.03],[1579.70,2.08],[1579.80,2.07],[1579.90,2.03],[1580.00,2.02]];
const zoom2Tel = [[1575.00,2.00],[1575.03,1.97],[1575.06,1.98],[1575.10,1.93],[1575.13,1.80],[1575.16,1.77],[1575.20,1.68],[1575.24,1.55],[1575.28,1.25],[1575.31,0.91],[1575.34,1.25],[1575.37,1.55],[1575.42,1.76],[1575.47,1.87],[1575.52,1.93],[1575.58,1.98],[1575.63,2.01],[1575.68,2.03],[1575.71,2.10],[1575.74,2.00],[1575.80,2.04],[1575.90,2.05],[1576.00,2.04],[1576.06,2.05],[1576.09,2.10],[1576.11,2.19],[1576.13,2.08],[1576.16,2.05],[1576.25,2.06],[1576.35,2.05],[1576.45,2.04],[1576.50,2.06],[1576.52,2.09],[1576.54,1.85],[1576.55,1.71],[1576.57,1.90],[1576.62,1.99],[1576.68,2.00],[1576.73,1.93],[1576.78,1.82],[1576.82,1.66],[1576.88,1.65],[1576.91,1.62],[1576.93,1.55],[1576.95,1.30],[1576.97,1.00],[1577.00,0.85],[1577.04,1.25],[1577.08,1.50],[1577.14,1.73],[1577.21,1.88],[1577.26,1.85],[1577.30,1.72],[1577.33,1.45],[1577.35,1.22],[1577.37,1.45],[1577.40,1.75],[1577.43,1.80],[1577.47,1.51],[1577.50,1.76],[1577.55,1.97],[1577.62,2.00],[1577.70,2.02],[1577.75,2.05],[1577.77,2.15],[1577.78,2.20],[1577.80,1.90],[1577.82,1.44],[1577.85,1.92],[1577.92,2.04],[1578.00,2.06],[1578.10,2.05],[1578.18,2.08],[1578.20,2.20],[1578.21,2.31],[1578.23,2.18],[1578.26,2.07],[1578.35,2.07],[1578.45,2.06],[1578.55,2.05],[1578.63,2.08],[1578.65,2.22],[1578.66,2.34],[1578.68,2.20],[1578.71,2.06],[1578.80,2.06],[1578.90,2.05],[1579.00,2.05],[1579.07,2.06],[1579.10,2.20],[1579.11,2.27],[1579.13,2.15],[1579.16,2.03],[1579.22,2.04],[1579.28,1.96],[1579.32,1.51],[1579.36,1.96],[1579.42,2.05],[1579.50,2.06],[1579.55,2.10],[1579.56,2.25],[1579.57,2.34],[1579.59,2.18],[1579.62,2.05],[1579.70,2.09],[1579.80,2.08],[1579.90,2.05],[1580.00,2.08]];
const zoom3Ext = [[1666.000,2.13],[1666.020,2.09],[1666.039,2.07],[1666.060,2.11],[1666.079,2.14],[1666.110,2.12],[1666.140,2.16],[1666.161,1.96],[1666.181,1.61],[1666.197,1.37],[1666.213,1.67],[1666.232,2.05],[1666.252,2.08],[1666.278,1.99],[1666.303,2.11],[1666.333,2.16],[1666.364,2.11],[1666.394,1.96],[1666.410,1.92],[1666.425,1.93],[1666.440,1.75],[1666.455,1.70],[1666.480,1.64],[1666.496,1.96],[1666.516,2.13],[1666.547,2.08],[1666.583,1.79],[1666.608,1.96],[1666.630,2.10],[1666.648,2.16],[1666.680,2.18],[1666.709,2.21],[1666.750,2.17],[1666.780,1.90],[1666.805,1.67],[1666.831,2.14],[1666.860,2.18],[1666.892,2.20],[1666.930,2.15],[1666.963,2.13],[1666.998,1.73],[1667.035,2.13],[1667.075,2.17],[1667.106,2.02],[1667.130,1.96],[1667.152,1.90],[1667.187,2.17],[1667.210,2.15],[1667.238,2.20],[1667.270,2.16],[1667.299,2.17],[1667.330,2.13],[1667.360,2.13],[1667.390,2.10],[1667.421,2.08],[1667.450,2.17],[1667.482,2.21],[1667.510,2.18],[1667.543,2.17],[1667.583,2.14],[1667.610,2.11],[1667.644,2.13],[1667.675,2.10],[1667.705,2.10],[1667.740,2.16],[1667.766,2.13],[1667.795,2.09],[1667.817,1.98],[1667.840,2.08],[1667.868,2.13],[1667.900,2.12],[1667.929,2.14],[1667.960,2.15],[1668.000,2.16]];
const zoom3Tel = [[1666.000,2.19],[1666.020,2.12],[1666.039,2.08],[1666.060,2.12],[1666.079,2.14],[1666.110,2.16],[1666.140,2.22],[1666.161,2.14],[1666.181,2.23],[1666.197,2.33],[1666.213,2.26],[1666.232,2.17],[1666.252,2.16],[1666.278,2.17],[1666.303,2.19],[1666.333,2.18],[1666.364,2.11],[1666.394,1.99],[1666.410,1.94],[1666.425,1.93],[1666.440,2.00],[1666.455,2.08],[1666.480,2.26],[1666.496,2.24],[1666.516,2.17],[1666.547,2.08],[1666.583,1.79],[1666.608,1.96],[1666.630,2.10],[1666.648,2.16],[1666.680,2.19],[1666.709,2.22],[1666.750,2.20],[1666.780,2.24],[1666.805,2.29],[1666.831,2.17],[1666.860,2.18],[1666.892,2.20],[1666.930,2.15],[1666.963,2.13],[1666.998,1.73],[1667.035,2.13],[1667.075,2.18],[1667.106,2.26],[1667.130,2.16],[1667.152,2.13],[1667.187,2.19],[1667.210,2.17],[1667.238,2.20],[1667.270,2.18],[1667.299,2.18],[1667.330,2.16],[1667.360,2.15],[1667.390,2.17],[1667.421,2.19],[1667.450,2.18],[1667.482,2.21],[1667.510,2.18],[1667.543,2.17],[1667.583,2.14],[1667.610,2.12],[1667.644,2.13],[1667.675,2.11],[1667.705,2.14],[1667.740,2.18],[1667.766,2.14],[1667.795,2.10],[1667.817,1.99],[1667.840,2.09],[1667.868,2.13],[1667.900,2.13],[1667.929,2.15],[1667.960,2.16],[1668.000,2.17]];
const zoom1Ticks = [1082.0,1082.5,1083.0,1083.5,1084.0,1084.5,1085.0];
const zoom2Ticks = [1575,1576,1577,1578,1579,1580];
const zoom3Ticks = [1666.0,1666.5,1667.0,1667.5,1668.0];
const zoom1Y = [1.0,1.5,2.0,2.5,3.0];
const zoom2Y = [0.5,1.0,1.5,2.0,2.5,3.0];
const zoom3Y = [1.0,1.5,2.0,2.5,3.0];

// ================= DRAWING =================
const svg = d3.select('#fig');
svg.append('rect').attr('width',1200).attr('height',1600).attr('fill','#fff');
const BG = '#fcfbe3', GRID = '#cdcdcd', FS = 13.9;
const pD = d3.utcParse('%Y-%m-%d'), pM = d3.utcParse('%Y-%m');
const minus = s => String(s).replace('-', '\u2212');
let clipN = 0;

function panel(x0,y0,w,h,xs,ys,xTicks,xFmt,yTicks,yFmt){
  const g = svg.append('g').attr('transform',`translate(${x0},${y0})`);
  g.append('rect').attr('width',w).attr('height',h).attr('fill',BG);
  const gg = g.append('g');
  gg.append('g').attr('transform',`translate(0,${h})`).call(d3.axisBottom(xs).tickValues(xTicks).tickSize(-h).tickFormat(''));
  gg.append('g').call(d3.axisLeft(ys).tickValues(yTicks).tickSize(-w).tickFormat(''));
  gg.selectAll('.domain').remove();
  gg.selectAll('.tick line').attr('stroke',GRID).attr('stroke-width',0.8).attr('stroke-dasharray','4.1,1.8');
  const id = 'clip'+(clipN++);
  g.append('clipPath').attr('id',id).append('rect').attr('width',w).attr('height',h);
  const data = g.append('g').attr('clip-path',`url(#${id})`);
  const top = g.append('g');
  function finish(){
    const ax = top.append('g').attr('transform',`translate(0,${h})`).call(d3.axisBottom(xs).tickValues(xTicks).tickFormat(xFmt).tickSize(4.9).tickPadding(5.2));
    const ay = top.append('g').call(d3.axisLeft(ys).tickValues(yTicks).tickFormat(yFmt).tickSize(4.9).tickPadding(4.9));
    [ax,ay].forEach(a=>{
      a.select('.domain').remove();
      a.selectAll('.tick line').attr('stroke','#000').attr('stroke-width',1.1);
      a.selectAll('text').attr('font-family','DejaVu Sans').attr('font-size',FS).attr('fill','#000');
    });
    top.append('rect').attr('width',w).attr('height',h).attr('fill','none').attr('stroke','#000').attr('stroke-width',1.1);
  }
  return {g,data,top,finish};
}
function label(x,y,txt,opts={}){
  const t = svg.append('text').attr('x',x).attr('y',y).attr('text-anchor','middle').attr('font-size',opts.fs||FS);
  if(opts.rot){ t.attr('x',0).attr('y',0).attr('transform',`translate(${x},${y}) rotate(-90)`).attr('dominant-baseline','central'); }
  t.text(txt);
  return t;
}

label(600,47,'GL666A',{fs:16.7});

// ---------- Panel 1 ----------
const PL=72, PW=1116, PH=285;
const xDate = d3.scaleUtc().domain([new Date(Date.UTC(2023,2,26,19)), new Date(Date.UTC(2025,7,16,12))]).range([0,PW]);
const dTicks = dateTicks.map(pM);
const dFmt = d3.utcFormat('%Y-%m');
const ySnr = d3.scaleLinear().domain([131,841]).range([PH,0]);
const p1 = panel(PL,80,PW,PH,xDate,ySnr,dTicks,dFmt,snrTicks,d=>d);
const obs = obsDates.map((d,i)=>({t:pD(d),a:snrOrder15[i],b:snrOrder60[i],v:vtotPassed[i]}));
p1.data.selectAll('circle.a').data(obs).join('circle').attr('cx',d=>xDate(d.t)).attr('cy',d=>ySnr(d.a)).attr('r',2.6).attr('fill','#1f77b4').attr('fill-opacity',0.55);
p1.data.selectAll('circle.b').data(obs).join('circle').attr('cx',d=>xDate(d.t)).attr('cy',d=>ySnr(d.b)).attr('r',2.6).attr('fill','#ff7f0e').attr('fill-opacity',0.55);
p1.finish();
{
  const lg = p1.top.append('g');
  lg.append('rect').attr('x',7.6).attr('y',7.5).attr('width',532).attr('height',27.5).attr('rx',3).attr('fill','#fff').attr('fill-opacity',0.8).attr('stroke','#d5d5d5').attr('stroke-width',1);
  lg.append('circle').attr('cx',26.3).attr('cy',21.3).attr('r',2.6).attr('fill','#1f77b4').attr('fill-opacity',0.55);
  lg.append('circle').attr('cx',305.3).attr('cy',21.3).attr('r',2.6).attr('fill','#ff7f0e').attr('fill-opacity',0.55);
  const t1 = lg.append('text').attr('x',51.8).attr('y',21.3).attr('dominant-baseline','central').attr('font-size',FS);
  t1.append('tspan').text('SNR[Order 15 (#134 1.08'); t1.append('tspan').attr('font-style','italic').text('\u03bc'); t1.append('tspan').text('m)]');
  const t2 = lg.append('text').attr('x',331).attr('y',21.3).attr('dominant-baseline','central').attr('font-size',FS);
  t2.append('tspan').text('SNR[Order 60 (#89 1.63'); t2.append('tspan').attr('font-style','italic').text('\u03bc'); t2.append('tspan').text('m)]');
}
label(630,405,'Date');
label(21.5,222.5,'EXT SNR',{rot:true});

// ---------- Panel 2 ----------
const yV = d3.scaleLinear().domain([-56.7,3.7]).range([PH,0]);
const p2 = panel(PL,465,PW,PH,xDate,yV,dTicks,dFmt,vtotTicks,d=>minus(d));
const berv = bervDates.map((d,i)=>({t:pD(d),v:bervValues[i]}));
p2.data.append('path').datum(berv).attr('d',d3.line().x(d=>xDate(d.t)).y(d=>yV(d.v)).curve(d3.curveCatmullRom.alpha(0.5)))
  .attr('fill','none').attr('stroke','#7a7a7a').attr('stroke-width',2.6).attr('stroke-dasharray','2.6,4.8');
p2.data.append('line').attr('x1',0).attr('x2',PW).attr('y1',yV(vsys)).attr('y2',yV(vsys)).attr('stroke','#1f77b4').attr('stroke-width',2.1);
p2.data.selectAll('circle.g').data(obs).join('circle').attr('cx',d=>xDate(d.t)).attr('cy',d=>yV(d.v)).attr('r',4.6)
  .attr('fill','green').attr('fill-opacity',0.45).attr('stroke','green').attr('stroke-opacity',0.5).attr('stroke-width',1);
p2.finish();
{
  const lg = p2.top.append('g');
  lg.append('rect').attr('x',7.6).attr('y',5).attr('width',195).attr('height',72).attr('rx',3).attr('fill','#fff').attr('fill-opacity',0.8).attr('stroke','#d5d5d5').attr('stroke-width',1);
  const fs2 = 11.1;
  lg.append('circle').attr('cx',21).attr('cy',13.6).attr('r',4.6).attr('fill','green').attr('fill-opacity',0.5).attr('stroke','green').attr('stroke-opacity',0.5);
  const X = (cx,cy,c)=>{ lg.append('path').attr('d',`M${cx-6.5},${cy-7}L${cx+6.5},${cy+7}M${cx-6.5},${cy+7}L${cx+6.5},${cy-7}`).attr('stroke',c).attr('stroke-width',1.3).attr('fill','none'); };
  X(21,30,'blue'); X(21,46,'red');
  lg.append('line').attr('x1',9.5).attr('x2',32.5).attr('y1',62.5).attr('y2',62.5).attr('stroke','#1f77b4').attr('stroke-width',2.1);
  const tt = (y,s)=>lg.append('text').attr('x',40).attr('y',y).attr('dominant-baseline','central').attr('font-size',fs2).text(s);
  tt(13.6,'Passed all QC (PP to TCORR)'); tt(30,'Failed QC (EXT)'); tt(46,'Failed QC (TCORR)');
  const t4 = lg.append('text').attr('x',40).attr('y',62.5).attr('dominant-baseline','central').attr('font-size',fs2);
  t4.append('tspan').attr('font-style','italic').text('v');
  t4.append('tspan').attr('font-style','italic').attr('font-size',7.8).attr('dy',2.5).text('sys');
  t4.append('tspan').attr('dy',-2.5).text(' = -26.642 [km/s]');
}
label(630,457,'BERV coverage = 25.392 km/s');
label(630,789,'Date');
{
  const t = svg.append('text').attr('transform','translate(15,607.5) rotate(-90)').attr('text-anchor','middle').attr('dominant-baseline','central').attr('font-size',FS);
  t.append('tspan').attr('font-style','italic').text('v');
  t.append('tspan').attr('font-style','italic').attr('font-size',9.7).attr('dy',3).text('tot');
  t.append('tspan').attr('dy',-3).text(' [km/s] = ');
  t.append('tspan').attr('font-style','italic').text('v');
  t.append('tspan').attr('font-style','italic').attr('font-size',9.7).attr('dy',3).text('sys');
  t.append('tspan').attr('dy',-3).text(' \u2212 ');
  t.append('tspan').attr('font-style','italic').text('BERV');
}

// ---------- Panel 3 ----------
const xW = d3.scaleLinear().domain([985,1810]).range([0,PW]);
const yF = d3.scaleLinear().domain([0,3.6]).range([PH,0]);
const p3 = panel(PL,850,PW,PH,xW,yF,specXTicks,d3.format('d'),fluxTicks,d3.format('.1f'));
const rows = specWave.map((w,i)=>({w,eh:extHi[i],el:extLo[i],th:telHi[i],tl:telLo[i]}));
const vline = (sel,data,y1,y2,color)=>sel.selectAll(null).data(data).join('line')
  .attr('x1',d=>Math.round(xW(d[0]))+0.5).attr('x2',d=>Math.round(xW(d[0]))+0.5)
  .attr('y1',y1).attr('y2',y2).attr('stroke',color).attr('stroke-width',1).attr('shape-rendering','crispEdges');
p3.data.append('path').datum(rows).attr('d',d3.area().x(d=>xW(d.w)).y0(d=>yF(d.el)).y1(d=>yF(d.eh)))
  .attr('fill','#000').attr('stroke','#000').attr('stroke-width',0.7);
vline(p3.data, extLines, d=>yF(d[1]), d=>yF(d[2]), '#000');
p3.data.append('path').datum(rows).attr('d',d3.area().defined(d=>d.th!=null).x(d=>xW(d.w)).y0(d=>yF(d.tl)).y1(d=>yF(d.th)))
  .attr('fill','#ff0000').attr('stroke','#ff0000').attr('stroke-width',0.7);
vline(p3.data, telPeaks, d=>yF(d[1]), d=>yF(d[1]-0.2), '#ff0000');
vline(p3.data, telDips, d=>yF(d[1]), d=>yF(d[1]+0.25), '#ff0000');
vline(p3.data, telLines, d=>yF(d[1]), d=>yF(d[2]), '#ff0000');
p3.finish();
{
  const lg = p3.top.append('g');
  lg.append('rect').attr('x',804.5-PL).attr('y',7).attr('width',376.5).attr('height',25).attr('rx',3).attr('fill','#fff').attr('fill-opacity',0.8).attr('stroke','#d5d5d5').attr('stroke-width',1);
  lg.append('line').attr('x1',810-PL).attr('x2',839-PL).attr('y1',19.5).attr('y2',19.5).attr('stroke','#000').attr('stroke-width',0.8);
  lg.append('line').attr('x1',1017-PL).attr('x2',1043-PL).attr('y1',19.5).attr('y2',19.5).attr('stroke','#ff0000').attr('stroke-width',0.8);
  lg.append('text').attr('x',849-PL).attr('y',19.5).attr('dominant-baseline','central').attr('font-size',FS).text('Extracted Spectrum');
  lg.append('text').attr('x',1055.5-PL).attr('y',19.5).attr('dominant-baseline','central').attr('font-size',FS).text('Telluric Corrected');
}
{
  const t = svg.append('text').attr('x',630).attr('y',842).attr('text-anchor','middle').attr('font-size',FS).style('white-space','pre');
  t.append('tspan').text('Spectrum closest to Median SNR[Order 60 (#89 1.63');
  t.append('tspan').attr('font-style','italic').text('\u03bc');
  t.append('tspan').text('m)]     SNR:324.3     File: NIRPS_2025-03-19T09_55_39_300.fits');
}
label(630,1174,'Wavelength [nm]');
label(27,992.5,'Flux',{rot:true});

// ---------- Zoom panels ----------
const zooms = [
  {x0:72, dom:[1082,1085], yd:[0.654,3.269], xt:zoom1Ticks, xf:d3.format('.1f'), yt:zoom1Y, ext:zoom1Ext, tel:zoom1Tel, title:'Zoom 1'},
  {x0:466.5, dom:[1575,1580], yd:[0.493,3.39], xt:zoom2Ticks, xf:d3.format('d'), yt:zoom2Y, ext:zoom2Ext, tel:zoom2Tel, title:'Zoom 2'},
  {x0:860.3, dom:[1666,1668], yd:[0.896,3.43], xt:zoom3Ticks, xf:d3.format('.1f'), yt:zoom3Y, ext:zoom3Ext, tel:zoom3Tel, title:'Zoom 3'}
];
const ZW=328, ZH=285, ZY=1235;
zooms.forEach(z=>{
  const xs = d3.scaleLinear().domain(z.dom).range([0,ZW]);
  const ys = d3.scaleLinear().domain(z.yd).range([ZH,0]);
  const p = panel(z.x0,ZY,ZW,ZH,xs,ys,z.xt,z.xf,z.yt,d3.format('.1f'));
  const ln = d3.line().x(d=>xs(d[0])).y(d=>ys(d[1]));
  p.data.append('path').datum(z.ext).attr('d',ln).attr('fill','none').attr('stroke','#000').attr('stroke-width',0.8).attr('stroke-linejoin','round');
  p.data.append('path').datum(z.tel).attr('d',ln).attr('fill','none').attr('stroke','#ff0000').attr('stroke-width',0.8).attr('stroke-linejoin','round');
  p.finish();
  label(z.x0+ZW/2,1227,z.title);
  label(z.x0+ZW/2,1560,'Wavelength [nm]');
});
label(27,1377.5,'Flux',{rot:true});
</script></body></html>
